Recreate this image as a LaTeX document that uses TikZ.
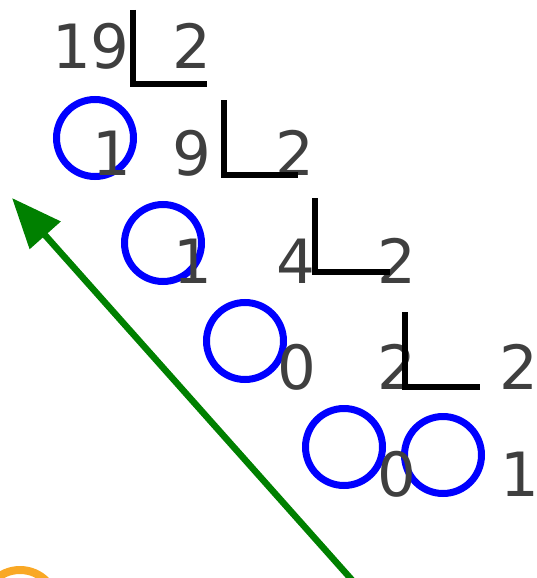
\documentclass[tikz,border=0pt]{standalone}
\usepackage{fontspec}
\setmainfont{DejaVu Sans}
\usetikzlibrary{arrows.meta}
\definecolor{txt}{HTML}{3F3F3F}
\definecolor{orng}{RGB}{249,168,37}
\definecolor{grn}{HTML}{008000}
\begin{document}
\begin{tikzpicture}[x=1pt,y=-1pt,
  num/.style={anchor=base,inner sep=0pt,text=txt,font=\fontsize{61}{61}\selectfont},
  rem/.style={draw=blue,line width=7pt,circle,minimum size=77pt,inner sep=0pt},
  bracket/.style={draw=black,line width=6pt}]
\useasboundingbox (0,0) rectangle (537,578);
\begin{scope}
\clip (0,0) rectangle (537,578);
\draw[orng,line width=8pt] (20,607) circle[radius=37];
\end{scope}
% row 1
\node[num] (n19) at (91,68) {19};
\node[num] (d1) at (192,68) {2};
\draw[bracket] (133,10) |- (207,84);
% row 2
\node[rem] (c1) at (95,138) {};
\node[num] (r1) at (112,175) {1};
\node[num] (n9) at (192,175) {9};
\node[num] (d2) at (295,175) {2};
\draw[bracket] (224,100) |- (298,175);
% row 3
\node[rem] (c2) at (163,243) {};
\node[num] (r2) at (193,283) {1};
\node[num] (n4) at (296,283) {4};
\node[num] (d3) at (397,283) {2};
\draw[bracket] (315,198) |- (390,272);
% row 4
\node[rem] (c3) at (245,341) {};
\node[num] (r3) at (297,389) {0};
\node[num] (n2) at (397,389) {2};
\draw[bracket] (405,312) |- (480,387);
\node[num] (d4) at (519,389) {2};
% row 5
\node[rem] (c4) at (344,447) {};
\node[rem] (c5) at (443,455) {};
\node[num] (r4) at (397,496) {0};
\node[num] (n1) at (520,496) {1};
% arrow
\coordinate (as) at (352,580);
\coordinate (ae) at (12,198);
\draw[grn,line width=6.5pt,-{Triangle[length=50pt,width=40pt]}] (as) -- (ae);
\end{tikzpicture}
\end{document}
